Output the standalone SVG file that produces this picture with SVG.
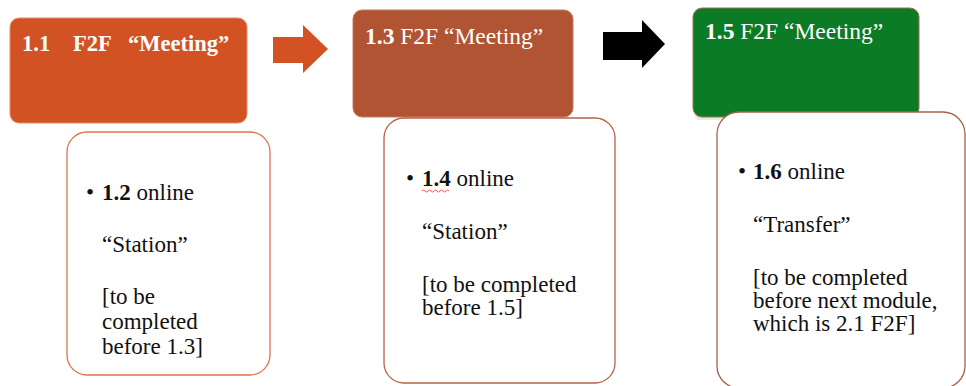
<svg xmlns="http://www.w3.org/2000/svg" width="966" height="386" viewBox="0 0 966 386">
<style>
.hd{font-family:"Liberation Serif","Times New Roman",serif;font-size:23.5px;font-weight:bold;fill:#ffffff}
.h1{font-size:22.5px}
.hn{font-weight:normal}
.bt{font-family:"Liberation Serif","Times New Roman",serif;font-size:23px;fill:#111111}
.b{font-weight:bold}
.card{fill:#ffffff;stroke-width:1.3}
</style>
<rect width="966" height="386" fill="#ffffff"/>
<g id="node-1-1">
<rect x="10" y="18" width="237" height="105" rx="9" fill="#D35224" stroke="#E88A66" stroke-width="1"/>
<text class="hd h1" x="22" y="51">1.1<tspan x="73">F2F</tspan><tspan x="128">“Meeting”</tspan></text>
</g>
<g id="node-1-2">
<rect class="card" x="67" y="132" width="203" height="243" rx="20" stroke="#E0714F"/>
<text class="bt" x="86" y="200">•</text>
<text class="bt" x="102" y="200"><tspan class="b">1.2</tspan> online</text>
<text class="bt" x="102" y="252">“Station”</text>
<text class="bt" x="102" y="304">[to be</text>
<text class="bt" x="102" y="329">completed</text>
<text class="bt" x="102" y="354">before 1.3]</text>
</g>
<g id="node-1-3">
<rect x="353" y="10" width="220" height="107" rx="9" fill="#B05433" stroke="#C67A5C" stroke-width="1"/>
<text class="hd" x="365" y="44">1.3 <tspan class="hn">F2F  “Meeting”</tspan></text>
</g>
<g id="node-1-4">
<rect class="card" x="384" y="118" width="231" height="265" rx="20" stroke="#B86246"/>
<text class="bt" x="406" y="186">•</text>
<text class="bt" x="422" y="186"><tspan class="b">1.4</tspan> online</text>
<path d="M422 191 q1.5 -2 3 0 t3 0 t3 0 t3 0 t3 0 t3 0 t3 0 t3 0 t3 0" fill="none" stroke="#E03030" stroke-width="0.8"/>
<text class="bt" x="422" y="239">“Station”</text>
<text class="bt" x="422" y="292">[to be completed</text>
<text class="bt" x="422" y="315">before 1.5]</text>
</g>
<g id="node-1-5">
<rect x="695" y="112" width="224" height="8" rx="4" fill="#E4EFE4"/>
<rect x="693" y="8" width="226" height="109" rx="9" fill="#0C7B25" stroke="#A07050" stroke-width="1"/>
<text class="hd" x="705" y="39">1.5 <tspan class="hn">F2F  “Meeting”</tspan></text>
</g>
<g id="node-1-6">
<rect class="card" x="717" y="112" width="248" height="276" rx="22" stroke="#A5624A"/>
<text class="bt" x="738" y="179">•</text>
<text class="bt" x="753" y="179"><tspan class="b">1.6</tspan> online</text>
<text class="bt" x="753" y="232">“Transfer”</text>
<text class="bt" x="753" y="285">[to be completed</text>
<text class="bt" x="753" y="308">before next module,</text>
<text class="bt" x="753" y="331">which is 2.1 F2F]</text>
</g>
<g id="connectors">
<polygon points="273,37 303,37 303,25 328,49 303,73 303,63 273,63" fill="#D35224"/>
<polygon points="603,32 642,32 642,20 665,44 642,68 642,60 603,60" fill="#000000"/>
</g>
</svg>
